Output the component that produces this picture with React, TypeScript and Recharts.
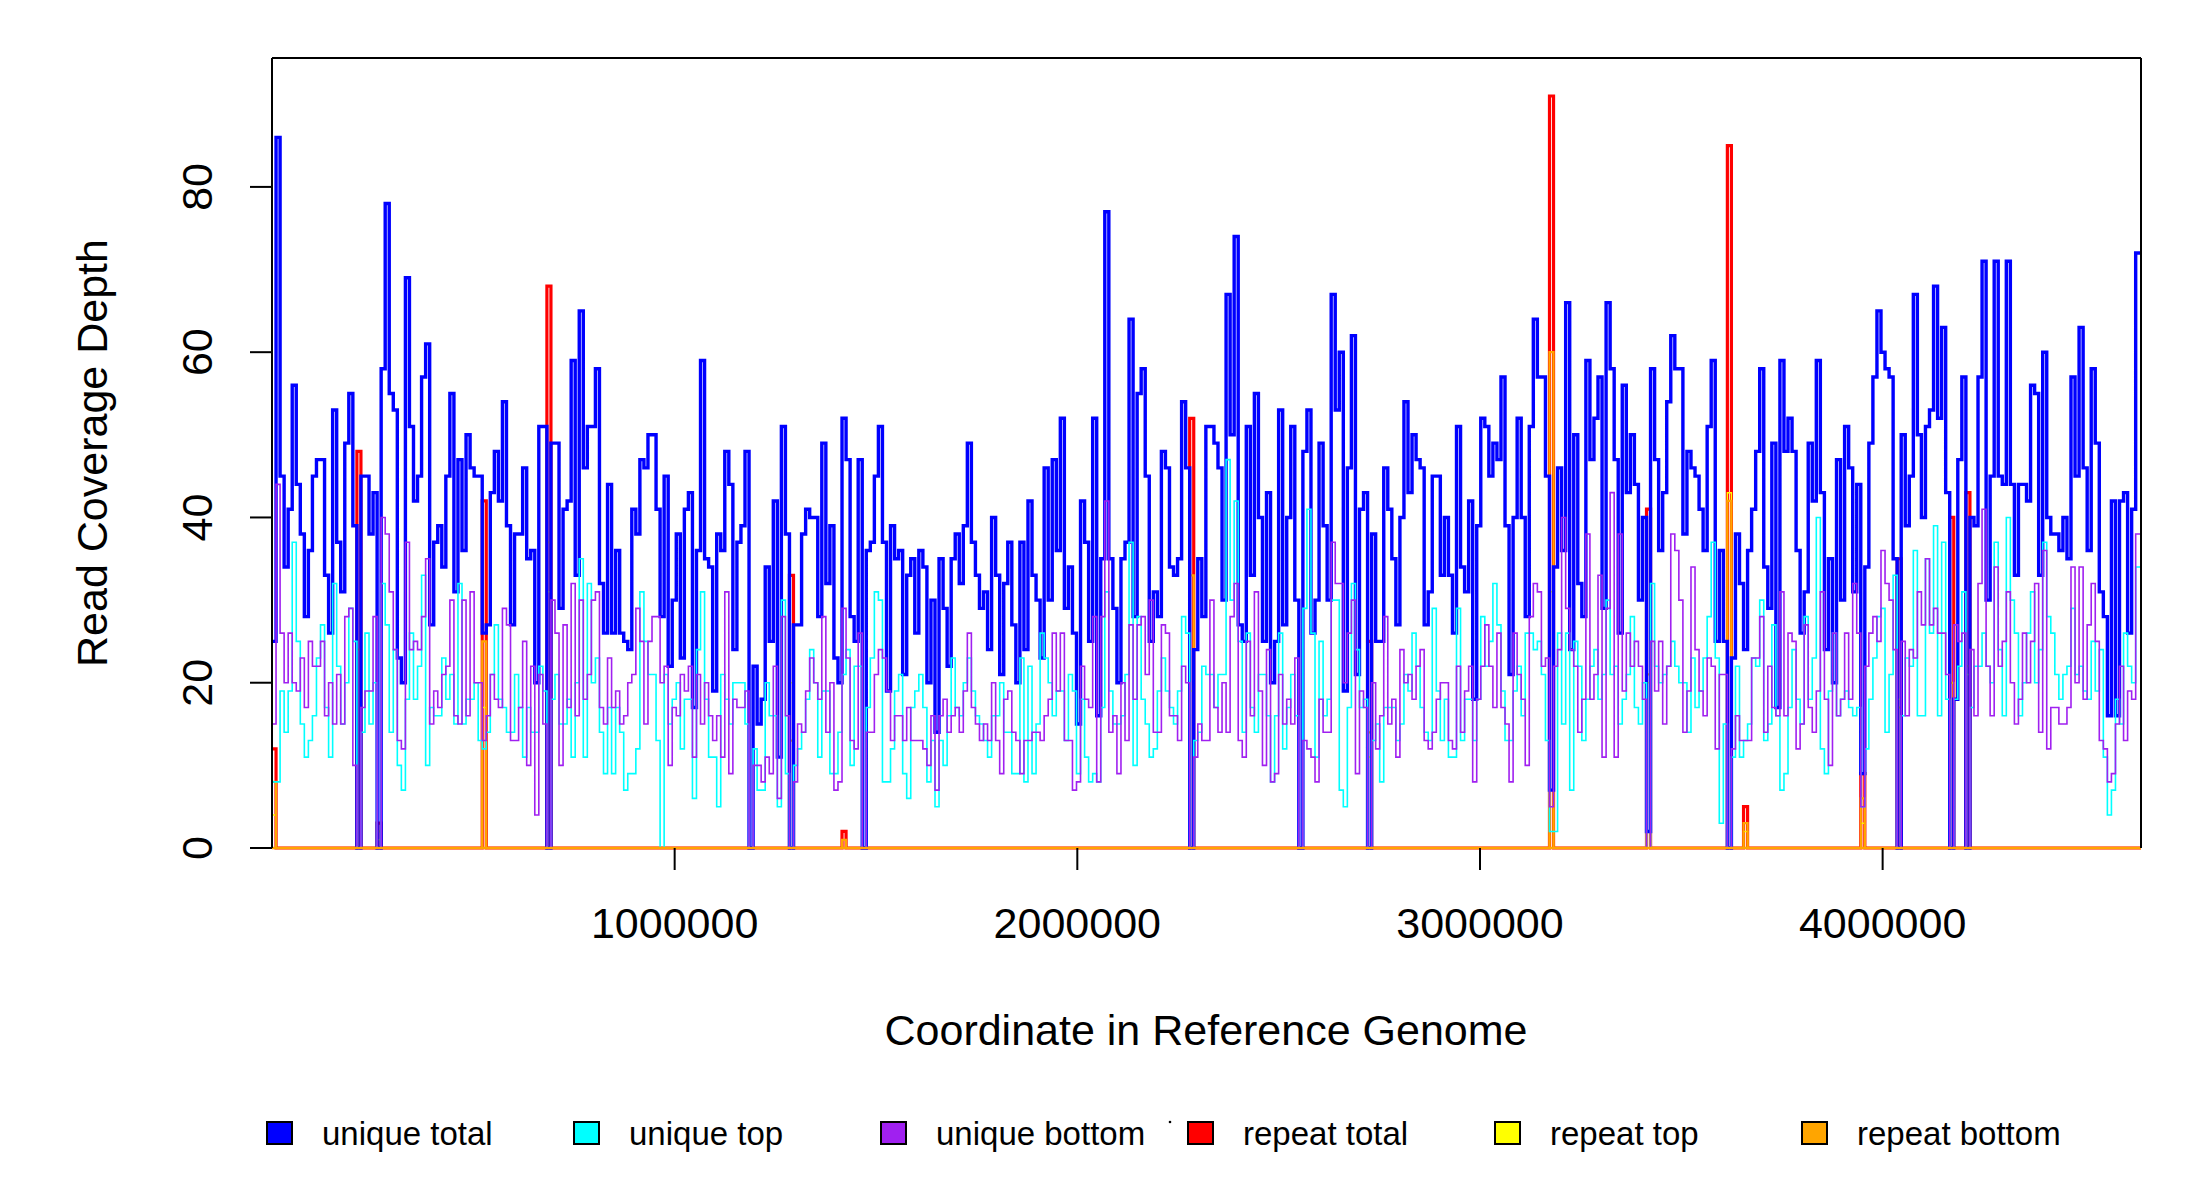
import React from "react";
import { ComposedChart, Line, XAxis, YAxis } from "recharts";

const FONT = "'Liberation Sans', Arial, sans-serif";

const GENOME_LENGTH = 4641652;
const BIN_SIZE = 10040;

// read coverage per 10 kb bin
const uniqueTotal = [
  25, 86, 45, 34, 41, 56, 44, 38, 28, 36, 45, 47, 47, 33, 26, 53, 37, 31, 49, 55,
  39, 0, 45, 45, 38, 43, 0, 58, 78, 55, 53, 23, 20, 69, 51, 42, 45, 57, 61, 27,
  37, 39, 34, 45, 55, 31, 47, 36, 50, 46, 45, 45, 26, 27, 43, 48, 42, 54, 39, 27,
  38, 38, 46, 35, 36, 20, 51, 51, 0, 49, 49, 29, 41, 42, 59, 33, 65, 46, 51, 51,
  58, 32, 26, 44, 26, 36, 26, 25, 24, 41, 38, 47, 46, 50, 50, 41, 28, 45, 22, 30,
  38, 23, 41, 43, 17, 36, 59, 35, 34, 19, 38, 36, 48, 44, 24, 37,
  39, 48, 0, 22, 15, 18, 34, 25, 42, 11, 51, 38, 0, 27, 27, 38, 41, 40, 40, 28,
  49, 32, 39, 23, 20, 52, 47, 28, 25, 47, 0, 36, 37, 45, 51, 37, 19, 39, 35, 36,
  21, 33, 35, 26, 36, 34, 20, 30, 14, 35, 29, 22, 35, 38, 32, 39, 49, 37, 33, 29,
  31, 24, 40, 33, 21, 32, 37, 27, 20, 37, 24, 42, 33, 30, 23, 46, 30, 47, 36, 52,
  29, 34, 26, 15, 42, 37, 25, 52, 16, 35, 77, 35, 29, 20, 35, 37, 64, 28, 55, 58,
  45, 25, 31, 28, 48, 46, 34, 33, 35, 54, 46, 0, 24, 35, 28, 51,
  51, 49, 46, 30, 67, 50, 74, 27, 25, 51, 33, 55, 40, 25, 43, 20, 25, 53, 27, 40,
  51, 30, 0, 48, 53, 26, 30, 49, 39, 30, 67, 53, 60, 19, 46, 62, 21, 41, 43, 0,
  38, 25, 25, 46, 41, 35, 27, 40, 54, 43, 50, 47, 46, 27, 31, 45, 45, 33, 40, 33,
  26, 51, 34, 31, 42, 18, 39, 52, 51, 45, 49, 47, 57, 39, 21, 40, 52, 40, 28, 51,
  64, 57, 57, 45, 7, 34, 46, 36, 66, 24, 50, 32, 28, 59, 47, 52, 57, 29, 66, 58,
  47, 26, 56, 43, 50, 44, 30, 40, 2, 58, 47, 36, 43, 54, 62, 58,
  58, 38, 48, 46, 45, 41, 36, 51, 59, 25, 36, 25, 0, 23, 38, 32, 24, 36, 41, 48,
  58, 34, 29, 49, 17, 59, 48, 52, 48, 36, 26, 31, 49, 42, 59, 43, 24, 35, 20, 47,
  30, 51, 46, 31, 44, 9, 34, 49, 57, 65, 60, 58, 57, 35, 0, 50, 39, 45, 67, 50,
  40, 51, 53, 68, 52, 63, 43, 0, 18, 47, 57, 0, 40, 39, 57, 71, 30, 45, 71, 45,
  44, 71, 44, 33, 44, 44, 42, 56, 55, 33, 60, 40, 38, 38, 36, 40, 35, 57, 45, 63,
  46, 36, 58, 49, 31, 28, 16, 42, 16, 42, 43, 26, 41, 72,
];

const uniqueTop = [
  8, 8, 19, 14, 19, 37, 25, 15, 11, 13, 16, 23, 27, 17, 11, 32, 22, 15, 20, 29,
  25, 0, 14, 26, 15, 20, 0, 32, 27, 14, 24, 10, 7, 18, 26, 18, 22, 33, 10, 17,
  16, 16, 23, 18, 21, 15, 32, 15, 18, 18, 20, 13, 12, 14, 21, 27, 18, 17, 14, 14,
  21, 17, 11, 17, 14, 14, 22, 19, 0, 18, 21, 15, 15, 18, 11, 20, 35, 11, 32, 20,
  23, 14, 9, 17, 9, 17, 14, 7, 9, 9, 12, 31, 25, 21, 21, 13, 0, 21, 15, 18,
  20, 12, 18, 18, 6, 24, 31, 18, 11, 11, 5, 21, 18, 15, 20, 20,
  20, 15, 0, 12, 7, 7, 20, 16, 16, 5, 30, 9, 0, 10, 12, 14, 18, 24, 20, 11,
  19, 19, 9, 9, 14, 21, 24, 10, 22, 22, 0, 17, 23, 31, 30, 8, 8, 12, 19, 21,
  9, 6, 17, 19, 21, 17, 8, 13, 5, 13, 10, 16, 23, 17, 16, 20, 23, 19, 16, 15,
  13, 11, 16, 16, 20, 14, 14, 9, 9, 23, 8, 22, 9, 15, 26, 23, 20, 16, 19, 19,
  13, 21, 19, 9, 18, 11, 8, 9, 8, 17, 31, 19, 15, 15, 16, 21, 37, 10, 28, 18,
  15, 11, 12, 19, 23, 19, 17, 15, 19, 28, 26, 0, 13, 14, 22, 21,
  21, 17, 21, 21, 47, 30, 42, 25, 14, 26, 17, 14, 21, 21, 16, 8, 16, 26, 12, 17,
  21, 16, 0, 29, 41, 26, 11, 25, 16, 18, 30, 30, 7, 5, 17, 32, 24, 17, 18, 0,
  13, 15, 8, 17, 17, 17, 13, 15, 21, 19, 26, 22, 17, 14, 13, 29, 19, 13, 18, 11,
  11, 29, 13, 18, 18, 13, 18, 28, 22, 25, 32, 27, 19, 13, 13, 19, 22, 16, 26, 26,
  24, 25, 21, 13, 2, 2, 26, 15, 26, 7, 25, 22, 13, 18, 22, 24, 18, 21, 30, 21,
  22, 15, 18, 21, 28, 17, 15, 20, 0, 32, 22, 20, 21, 22, 25, 22,
  20, 20, 14, 23, 17, 19, 23, 28, 37, 23, 3, 15, 0, 11, 22, 11, 13, 15, 23, 22,
  30, 13, 15, 27, 16, 7, 9, 17, 24, 18, 15, 28, 18, 23, 40, 12, 9, 19, 26, 16,
  18, 19, 17, 16, 17, 5, 12, 18, 23, 28, 29, 14, 21, 33, 0, 16, 23, 22, 36, 16,
  16, 35, 26, 39, 16, 37, 18, 0, 18, 22, 31, 0, 17, 22, 22, 26, 22, 20, 37, 24,
  16, 40, 30, 26, 16, 20, 26, 31, 20, 24, 37, 28, 26, 21, 18, 21, 22, 29, 21, 22,
  19, 18, 25, 19, 24, 11, 4, 7, 18, 15, 26, 22, 20, 34,
];

const uniqueBottom = [
  15, 44, 26, 20, 26, 20, 19, 23, 17, 25, 22, 22, 25, 16, 20, 15, 21, 15, 28, 29,
  10, 0, 17, 19, 19, 28, 0, 40, 38, 31, 24, 13, 12, 37, 24, 25, 24, 28, 35, 15,
  19, 17, 21, 22, 30, 16, 15, 30, 16, 31, 20, 20, 13, 16, 21, 18, 17, 29, 27, 13,
  13, 17, 25, 10, 22, 4, 21, 15, 0, 30, 26, 10, 27, 17, 32, 16, 30, 18, 21, 30,
  31, 17, 15, 23, 17, 19, 15, 16, 20, 21, 29, 25, 15, 25, 28, 28, 20, 22, 10, 17,
  16, 21, 19, 22, 11, 21, 15, 20, 16, 13, 16, 11, 31, 9, 18, 17,
  17, 19, 0, 10, 10, 8, 11, 9, 22, 6, 28, 16, 0, 8, 15, 14, 19, 23, 20, 18,
  28, 14, 20, 7, 8, 29, 23, 13, 12, 26, 0, 14, 14, 21, 24, 23, 19, 13, 16, 16,
  13, 17, 13, 13, 13, 12, 10, 16, 7, 16, 18, 14, 16, 17, 14, 19, 26, 17, 15, 13,
  15, 13, 20, 13, 9, 18, 19, 14, 13, 9, 13, 13, 14, 14, 13, 16, 18, 26, 19, 26,
  13, 13, 7, 8, 22, 18, 17, 28, 8, 28, 42, 14, 16, 9, 20, 13, 27, 18, 27, 28,
  21, 30, 14, 14, 27, 26, 16, 16, 13, 22, 20, 0, 11, 15, 13, 13,
  30, 17, 14, 20, 14, 28, 32, 13, 11, 25, 16, 31, 19, 10, 24, 8, 9, 21, 15, 18,
  15, 23, 0, 13, 12, 11, 8, 18, 14, 14, 37, 32, 32, 20, 26, 30, 9, 19, 17, 0,
  20, 12, 16, 28, 15, 18, 11, 24, 20, 21, 18, 22, 24, 13, 12, 14, 18, 20, 20, 13,
  12, 22, 14, 19, 22, 8, 18, 22, 27, 22, 17, 26, 17, 15, 8, 26, 21, 18, 10, 28,
  32, 31, 22, 23, 5, 22, 24, 40, 29, 24, 22, 14, 18, 38, 18, 21, 33, 11, 29, 43,
  11, 38, 19, 26, 22, 25, 22, 18, 0, 25, 19, 25, 15, 22, 38, 36,
  30, 14, 19, 34, 24, 19, 16, 23, 22, 12, 21, 21, 0, 12, 16, 13, 13, 13, 23, 23,
  28, 14, 22, 17, 16, 31, 16, 26, 25, 12, 15, 27, 17, 14, 19, 31, 18, 10, 26, 16,
  18, 26, 18, 32, 26, 5, 22, 26, 28, 25, 36, 32, 30, 24, 0, 25, 16, 24, 23, 31,
  27, 35, 27, 29, 26, 26, 21, 0, 27, 25, 26, 0, 24, 16, 32, 41, 22, 16, 34, 22,
  25, 31, 20, 15, 18, 26, 20, 25, 32, 14, 36, 12, 17, 17, 15, 15, 17, 34, 20, 34,
  18, 27, 32, 25, 13, 12, 8, 9, 15, 22, 13, 19, 18, 38,
];

// repeat coverage is zero everywhere except these bins
const repeatBins = [0, 21, 26, 52, 68, 128, 141, 227, 271, 316, 340, 360, 364, 393, 402, 415, 419];
const repeatTotal = [12, 48, 3, 42, 68, 33, 2, 52, 25, 91, 41, 85, 5, 9, 35, 40, 43];
const repeatTop = [4, 24, 1, 17, 31, 20, 1, 19, 11, 31, 20, 43, 2, 3, 18, 20, 21];
const repeatBottom = [8, 24, 2, 25, 37, 13, 1, 33, 14, 60, 21, 42, 3, 6, 17, 20, 22];

const xTicks = [1000000, 2000000, 3000000, 4000000];
const yTicks = [0, 20, 40, 60, 80];

const legendItems = [
  { label: "unique total", color: "#0000FF" },
  { label: "unique top", color: "#00FFFF" },
  { label: "unique bottom", color: "#A020F0" },
  { label: "repeat total", color: "#FF0000" },
  { label: "repeat top", color: "#FFFF00" },
  { label: "repeat bottom", color: "#FFA500" },
];

const rows: any[] = uniqueTotal.map((v, i) => {
  const r = repeatBins.indexOf(i);
  return {
    pos: i * BIN_SIZE,
    ut: v,
    utop: uniqueTop[i],
    ubot: uniqueBottom[i],
    rt: r >= 0 ? repeatTotal[r] : 0,
    rtop: r >= 0 ? repeatTop[r] : 0,
    rbot: r >= 0 ? repeatBottom[r] : 0,
  };
});
// close the last step at the genome end
rows.push({ ...rows[rows.length - 1], pos: GENOME_LENGTH });

const XTick = ({ x, payload }: any) => (
  <text x={x} y={938} textAnchor="middle" fontSize={43} fontFamily={FONT} fill="#000">
    {String(payload.value)}
  </text>
);

const YTick = ({ y, payload }: any) => (
  <text x={212} y={y} transform={`rotate(-90 212 ${y})`} textAnchor="middle" fontSize={43} fontFamily={FONT} fill="#000">
    {String(payload.value)}
  </text>
);

const axisStroke = { stroke: "#000", strokeWidth: 2 };

export default function App() {
  return (
    <div style={{ position: "absolute", left: 0, top: 0, width: 2200, height: 1200, background: "#fff" }}>
      <ComposedChart width={2200} height={1200} data={rows} margin={{ top: 57, right: 58, bottom: 262, left: 212 }}>
        <XAxis
          dataKey="pos"
          type="number"
          domain={[0, GENOME_LENGTH]}
          ticks={xTicks}
          interval={0}
          height={90}
          tickSize={22}
          tickLine={axisStroke}
          axisLine={{ stroke: "#FFA500", strokeWidth: 2.5 }}
          tick={<XTick />}
        />
        <XAxis xAxisId="top" orientation="top" type="number" dataKey="pos" domain={[0, GENOME_LENGTH]} height={1} tick={false} tickLine={false} axisLine={axisStroke} />
        <YAxis
          type="number"
          domain={[0, 95.6]}
          ticks={yTicks}
          interval={0}
          width={60}
          tickSize={22}
          tickLine={axisStroke}
          axisLine={axisStroke}
          tick={<YTick />}
        />
        <YAxis yAxisId="right" orientation="right" type="number" domain={[0, 95.6]} width={1} tick={false} tickLine={false} axisLine={axisStroke} />
        <Line dataKey="rt" type="stepAfter" stroke="#FF0000" strokeWidth={3.2} dot={false} activeDot={false} isAnimationActive={false} />
        <Line dataKey="rtop" type="stepAfter" stroke="#FFFF00" strokeWidth={1.5} dot={false} activeDot={false} isAnimationActive={false} />
        <Line dataKey="rbot" type="stepAfter" stroke="#FFA500" strokeWidth={2.2} dot={false} activeDot={false} isAnimationActive={false} />
        <Line dataKey="ut" type="stepAfter" stroke="#0000FF" strokeWidth={3.4} dot={false} activeDot={false} isAnimationActive={false} />
        <Line dataKey="utop" type="stepAfter" stroke="#00FFFF" strokeWidth={1.6} dot={false} activeDot={false} isAnimationActive={false} />
        <Line dataKey="ubot" type="stepAfter" stroke="#A020F0" strokeWidth={1.6} dot={false} activeDot={false} isAnimationActive={false} />
      </ComposedChart>
      <svg width={2200} height={1200} style={{ position: "absolute", left: 0, top: 0, pointerEvents: "none" }}>
        <text x={107} y={453} transform="rotate(-90 107 453)" textAnchor="middle" fontSize={43} fontFamily={FONT} fill="#000">
          Read Coverage Depth
        </text>
        <text x={1206} y={1045} textAnchor="middle" fontSize={43} fontFamily={FONT} fill="#000">
          Coordinate in Reference Genome
        </text>
        {legendItems.map((item, k) => (
          <g key={item.label}>
            <rect x={267 + 307 * k} y={1122} width={25} height={22} fill={item.color} stroke="#000" strokeWidth={2} />
            <text x={322 + 307 * k} y={1145} fontSize={33} fontFamily={FONT} fill="#000">
              {item.label}
            </text>
          </g>
        ))}
        <circle cx={1170} cy={1122} r={1.3} fill="#000" />
      </svg>
    </div>
  );
}
